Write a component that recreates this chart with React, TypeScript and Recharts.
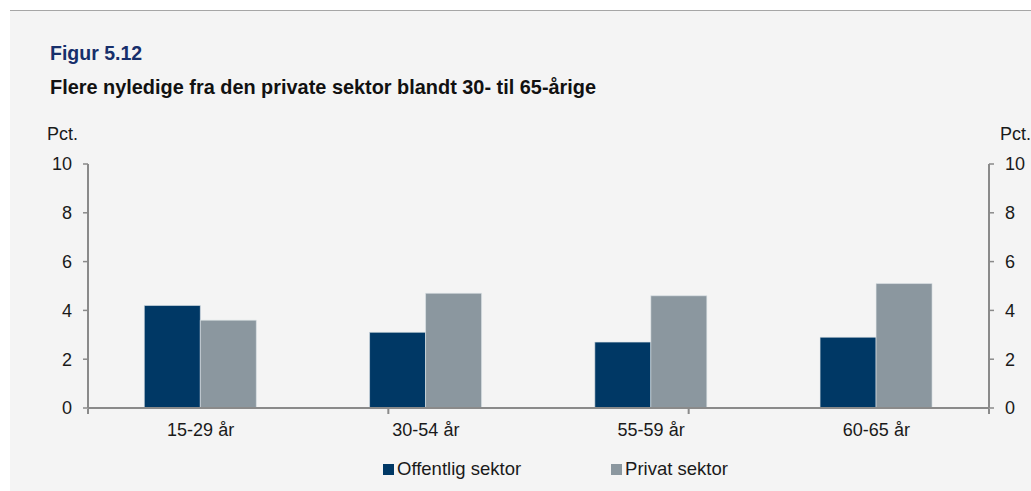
import { BarChart, Bar, XAxis, YAxis, Legend } from "recharts";

const categories = ["15-29 år", "30-54 år", "55-59 år", "60-65 år"];
const offentlig = [4.2, 3.1, 2.7, 2.9];
const privat = [3.6, 4.7, 4.6, 5.1];
const yTicks = [0, 2, 4, 6, 8, 10];
const groupEdges = [0, 1, 2, 3, 4];

const data = categories.map((name, i) => ({
  name,
  offentlig: offentlig[i],
  privat: privat[i],
}));

const FONT = '"Liberation Sans", Arial, sans-serif';
const AXIS = "#8a8a8a";
const TEXT = "#1a1a1a";

function LegendContent({ payload }: any) {
  return (
    <div style={{ display: "flex", alignItems: "center", fontFamily: FONT }}>
      {(payload || []).map((p: any, i: number) => (
        <div
          key={p.value}
          style={{
            display: "flex",
            alignItems: "center",
            marginRight: i === 0 ? 90 : 0,
          }}
        >
          <span
            style={{
              width: 11,
              height: 11,
              background: p.color,
              marginRight: 3,
              display: "inline-block",
            }}
          />
          <span style={{ fontSize: 18.5, lineHeight: "18px", color: TEXT }}>
            {p.value}
          </span>
        </div>
      ))}
    </div>
  );
}

// no label on the group-edge axis, only its tick lines
const NoLabel = () => <g />;

export default function App() {
  return (
    <div
      style={{
        position: "relative",
        width: 1031,
        height: 491,
        background: "#ffffff",
        fontFamily: FONT,
        overflow: "hidden",
      }}
    >
      <style>{"html,body{margin:0;padding:0;overflow:hidden;}"}</style>
      <div
        style={{
          position: "absolute",
          left: 10,
          top: 10,
          right: 0,
          bottom: 0,
          background: "#f4f4f4",
          borderTop: "1px solid #a6a6a6",
        }}
      />
      <div
        style={{
          position: "absolute",
          left: 50,
          top: 43.5,
          fontSize: 19.5,
          lineHeight: "19.5px",
          fontWeight: "bold",
          color: "#172f6b",
          whiteSpace: "nowrap",
        }}
      >
        Figur 5.12
      </div>
      <div
        style={{
          position: "absolute",
          left: 50,
          top: 77.5,
          fontSize: 19.9,
          lineHeight: "19.5px",
          fontWeight: "bold",
          color: "#111",
          whiteSpace: "nowrap",
        }}
      >
        Flere nyledige fra den private sektor blandt 30- til 65-årige
      </div>
      <div
        style={{
          position: "absolute",
          left: 47,
          top: 125,
          fontSize: 18,
          lineHeight: "18px",
          color: TEXT,
        }}
      >
        Pct.
      </div>
      <div
        style={{
          position: "absolute",
          left: 1000,
          top: 125,
          fontSize: 18,
          lineHeight: "18px",
          color: TEXT,
          whiteSpace: "nowrap",
        }}
      >
        Pct.
      </div>
      <div style={{ position: "absolute", left: 0, top: 0 }}>
        <BarChart
          width={1031}
          height={491}
          data={data}
          margin={{ top: 164, right: 0, bottom: 81, left: 0 }}
          barCategoryGap="25%"
          barGap={0}
        >
          <XAxis
            xAxisId="cat"
            dataKey="name"
            height={1}
            axisLine={{ stroke: AXIS, strokeWidth: 2 }}
            tickLine={false}
            tickSize={0}
            tickMargin={15}
            tick={{ fill: TEXT, fontSize: 18, fontFamily: FONT }}
          />
          <XAxis
            xAxisId="edges"
            type="number"
            domain={[0, 4]}
            ticks={groupEdges}
            allowDataOverflow
            height={1}
            axisLine={false}
            tickLine={{ stroke: AXIS, strokeWidth: 2 }}
            tickSize={5}
            tick={<NoLabel />}
            interval={0}
          />
          <YAxis
            yAxisId="left"
            width={88}
            domain={[0, 10]}
            ticks={yTicks}
            axisLine={{ stroke: AXIS, strokeWidth: 2 }}
            tickLine={{ stroke: AXIS, strokeWidth: 1.5 }}
            tickSize={5}
            tickMargin={11}
            tick={{ fill: TEXT, fontSize: 18, fontFamily: FONT }}
          />
          <YAxis
            yAxisId="right"
            orientation="right"
            width={42}
            domain={[0, 10]}
            allowDataOverflow
            ticks={yTicks}
            interval={0}
            axisLine={{ stroke: AXIS, strokeWidth: 2 }}
            tickLine={{ stroke: AXIS, strokeWidth: 1.5 }}
            tickSize={5}
            tickMargin={11}
            tick={{ fill: TEXT, fontSize: 18, fontFamily: FONT }}
          />
          <Legend
            layout="horizontal"
            verticalAlign="middle"
            align="center"
            content={<LegendContent />}
            wrapperStyle={{ top: 460, left: 383, width: "auto" }}
          />
          <Bar
            xAxisId="cat"
            yAxisId="left"
            dataKey="offentlig"
            name="Offentlig sektor"
            fill="#003865"
            stroke="#dfe5ea"
            strokeWidth={0.6}
            isAnimationActive={false}
          />
          <Bar
            xAxisId="cat"
            yAxisId="left"
            dataKey="privat"
            name="Privat sektor"
            fill="#8b979f"
            stroke="#dfe5ea"
            strokeWidth={0.6}
            isAnimationActive={false}
          />
        </BarChart>
      </div>
    </div>
  );
}
